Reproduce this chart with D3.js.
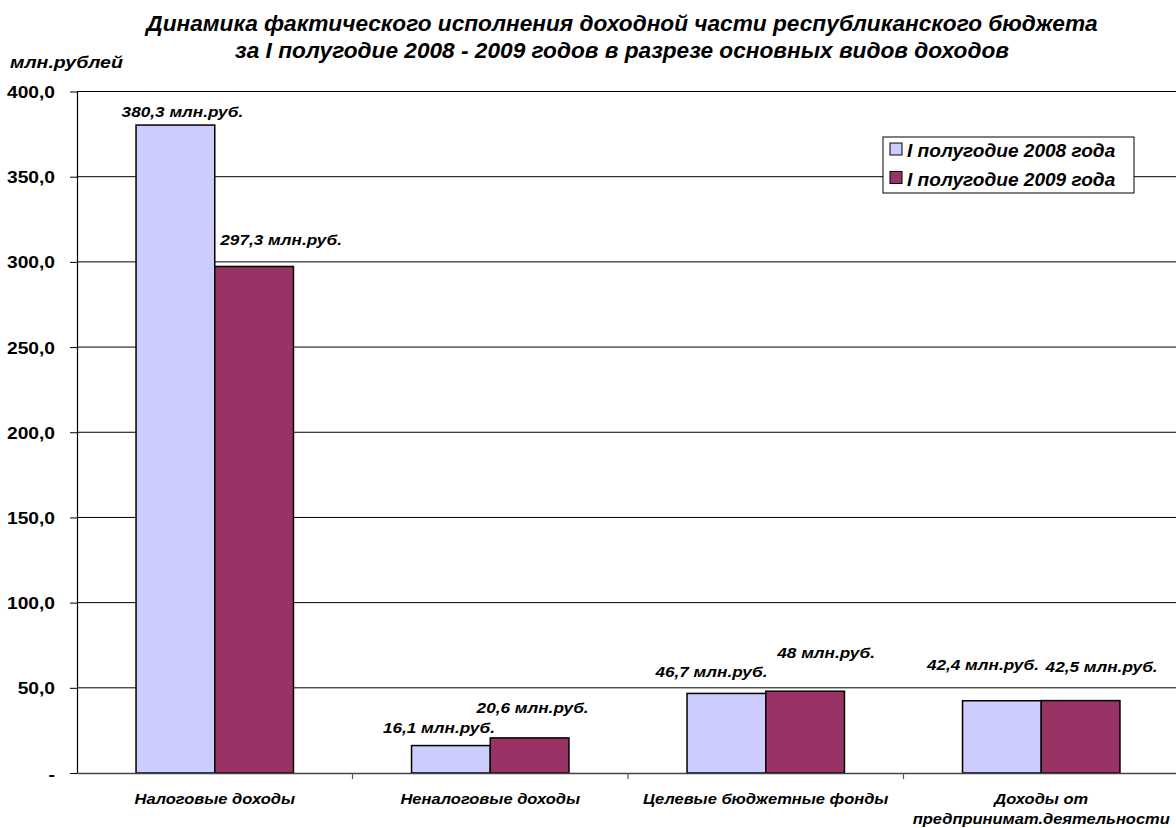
<!DOCTYPE html>
<html><head><meta charset="utf-8">
<script src="https://cdn.jsdelivr.net/npm/d3@7"></script>
<style>
body{margin:0;background:#fff;}
text{font-family:"Liberation Sans",Arial,sans-serif;font-weight:bold;}
</style></head>
<body><svg id="c" width="1176" height="828"></svg>
<script>
const titleLines = ["Динамика фактического исполнения доходной части республиканского бюджета","за I полугодие 2008 - 2009 годов в разрезе основных видов доходов"];
const unitLabel = "млн.рублей";
const categories = ["Налоговые доходы","Неналоговые доходы","Целевые бюджетные фонды","Доходы от|предпринимат.деятельности"];
const seriesNames = ["I полугодие 2008 года","I полугодие 2009 года"];
const values2008 = [380.3, 16.1, 46.7, 42.4];
const values2009 = [297.3, 20.6, 48, 42.5];
const labels2008 = ["380,3 млн.руб.","16,1 млн.руб.","46,7 млн.руб.","42,4 млн.руб."];
const labels2009 = ["297,3 млн.руб.","20,6 млн.руб.","48 млн.руб.","42,5 млн.руб."];
const yTickValues = [0,50,100,150,200,250,300,350,400];
const yTickLabels = ["-","50,0","100,0","150,0","200,0","250,0","300,0","350,0","400,0"];
// manual label offsets (dx, dy of baseline from bar top) as in the original
const labelDx2008 = [7, -12, -15, -19];
const labelDy2008 = [-8, -13, -16, -31];
const labelDx2009 = [27, 3, 21, 21];
const labelDy2009 = [-21, -25, -33, -29];
const colors = ["#CCCCFF", "#993366"];

const svg = d3.select("#c");
const pLeft = 77, pRight = 1179, pTop = 91.5, pBottom = 773;

function stext(g, x, y, str, size, sx, anchor, italic) {
  return g.append("text")
    .attr("transform", `translate(${x},${y}) scale(${sx},1)`)
    .attr("text-anchor", anchor)
    .attr("font-size", size)
    .attr("font-style", italic ? "italic" : "normal")
    .attr("fill", "#000")
    .text(str);
}

const x0 = d3.scaleBand().domain(categories).range([pLeft, pRight]).padding(0);
const x1 = d3.scaleBand().domain(seriesNames).range([0, x0.bandwidth()]).paddingInner(0).paddingOuter(0.75);
const y = d3.scaleLinear().domain([0, 400]).range([pBottom, pTop]);

// gridlines
svg.append("g").selectAll("line").data(yTickValues.filter(v => v > 0)).join("line")
  .attr("x1", pLeft).attr("x2", 1176).attr("y1", d => y(d)).attr("y2", d => y(d))
  .attr("stroke", "#000").attr("stroke-width", 1);

// y axis
const yAxis = svg.append("g").attr("transform", `translate(${pLeft},0)`)
  .call(d3.axisLeft(y).tickValues(yTickValues).tickSize(7).tickSizeOuter(0).tickFormat(""));
yAxis.select(".domain").attr("stroke", "#000").attr("stroke-width", 1.2);
yAxis.selectAll(".tick line").attr("stroke", "#000");
const yl = svg.append("g");
yTickValues.forEach((v, i) => {
  stext(yl, 55, y(v) + 6.5, yTickLabels[i], 17, 1.13, "end", false);
});

// bars
const data = categories.map((c, i) => ({c, vals: [
  {s: seriesNames[0], v: values2008[i], lab: labels2008[i], dx: labelDx2008[i], dy: labelDy2008[i]},
  {s: seriesNames[1], v: values2009[i], lab: labels2009[i], dx: labelDx2009[i], dy: labelDy2009[i]}
]}));
const groups = svg.append("g").selectAll("g").data(data).join("g")
  .attr("transform", d => `translate(${x0(d.c)},0)`);
groups.selectAll("rect").data(d => d.vals).join("rect")
  .attr("x", d => x1(d.s)).attr("width", x1.bandwidth())
  .attr("y", d => y(d.v)).attr("height", d => y(0) - y(d.v))
  .attr("fill", (d, i) => colors[i]).attr("stroke", "#000").attr("stroke-width", 1.5);
groups.each(function(d) {
  const g = d3.select(this);
  d.vals.forEach(v => {
    stext(g, x1(v.s) + x1.bandwidth() / 2 + v.dx, y(v.v) + v.dy, v.lab, 15.5, 1.11, "middle", true);
  });
});

// x axis
const xAxis = svg.append("g").attr("transform", `translate(0,${pBottom})`)
  .call(d3.axisBottom(x0).tickSize(0).tickSizeOuter(0).tickFormat(""));
xAxis.select(".domain").attr("stroke", "#444").attr("stroke-width", 1.5);
xAxis.selectAll(".tick").remove();
svg.append("g").selectAll("line").data(categories.slice(1)).join("line")
  .attr("x1", d => x0(d)).attr("x2", d => x0(d)).attr("y1", pBottom).attr("y2", pBottom + 6)
  .attr("stroke", "#555").attr("stroke-width", 1.2);
const xl = svg.append("g");
categories.forEach(c => {
  const parts = c.split("|");
  parts.forEach((p, k) => stext(xl, x0(c) + x0.bandwidth() / 2, 804 + k * 20, p, 15, 1.1, "middle", true));
});

// titles
stext(svg, 622, 31, titleLines[0], 22, 1.03, "middle", true);
stext(svg, 622, 58, titleLines[1], 22, 1.03, "middle", true);
stext(svg, 10, 68, unitLabel, 17, 1.15, "start", true);

// legend
const lg = svg.append("g");
lg.append("rect").attr("x", 883).attr("y", 137).attr("width", 251).attr("height", 56)
  .attr("fill", "#fff").attr("stroke", "#000").attr("stroke-width", 1);
seriesNames.forEach((s, i) => {
  lg.append("rect").attr("x", 890).attr("y", 143 + i * 28.5).attr("width", 12).attr("height", 12)
    .attr("fill", colors[i]).attr("stroke", "#000").attr("stroke-width", 1);
  stext(lg, 907, 157 + i * 28.5, s, 17.5, 1.09, "start", true);
});
</script></body></html>
